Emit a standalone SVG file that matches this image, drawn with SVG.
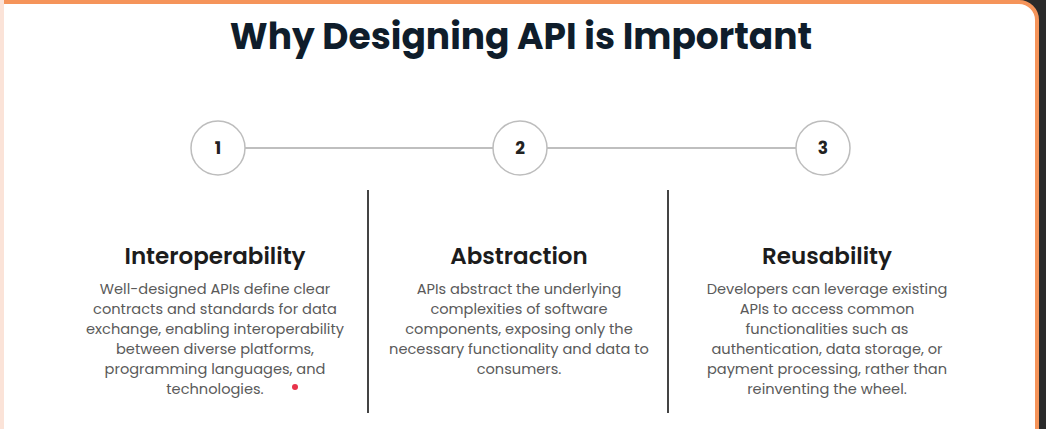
<svg xmlns="http://www.w3.org/2000/svg" width="1046" height="429" viewBox="0 0 1046 429">
<style>
.t{font-family:Poppins,"Noto Sans","Liberation Sans",sans-serif}
.c{fill:#fff;stroke:#bdbdbd;stroke-width:1.5}
.n{font-size:17px;font-weight:700;fill:#222;text-anchor:middle}
.h{font-size:23px;font-weight:600;fill:#1c1c1c;text-anchor:middle}
.b{font-size:14.6px;fill:#5a5a5a;text-anchor:middle}
.l{stroke:#aaa;stroke-width:1.5}
.d{stroke:#444;stroke-width:2}
</style>
<rect width="1046" height="429" fill="#2a2a2a"/>
<rect x="-20" y="2" width="1057" height="450" rx="18" fill="#fff" stroke="#f5945a" stroke-width="4"/>
<rect x="0" y="0" width="4" height="429" fill="#fbe3d8"/>
<text class="t" x="521" y="49" font-size="36" font-weight="700" fill="#0f1d2b" text-anchor="middle">Why Designing API is Important</text>
<g id="connectors">
<line class="l" x1="245" y1="148" x2="493" y2="148"/>
<line class="l" x1="547" y1="148" x2="796" y2="148"/>
<line class="d" x1="368" y1="190" x2="368" y2="413"/>
<line class="d" x1="668" y1="190" x2="668" y2="413"/>
</g>
<g id="n1"><circle class="c" cx="218" cy="148" r="27"/><text class="t n" x="218" y="154">1</text></g>
<g id="n2"><circle class="c" cx="520" cy="148" r="27"/><text class="t n" x="520" y="154">2</text></g>
<g id="n3"><circle class="c" cx="823" cy="148" r="27"/><text class="t n" x="823" y="154">3</text></g>
<g id="c1">
<text class="t h" x="215" y="264">Interoperability</text>
<text class="t b" x="215" y="294">Well-designed APIs define clear</text>
<text class="t b" x="215" y="314">contracts and standards for data</text>
<text class="t b" x="215" y="334">exchange, enabling interoperability</text>
<text class="t b" x="215" y="354">between diverse platforms,</text>
<text class="t b" x="215" y="374">programming languages, and</text>
<text class="t b" x="215" y="394">technologies.</text>
<circle cx="295" cy="387" r="3" fill="#e8334a"/>
</g>
<g id="c2">
<text class="t h" x="519" y="264">Abstraction</text>
<text class="t b" x="519" y="294">APIs abstract the underlying</text>
<text class="t b" x="519" y="314">complexities of software</text>
<text class="t b" x="519" y="334">components, exposing only the</text>
<text class="t b" x="519" y="354">necessary functionality and data to</text>
<text class="t b" x="519" y="374">consumers.</text>
</g>
<g id="c3">
<text class="t h" x="827" y="264">Reusability</text>
<text class="t b" x="827" y="294">Developers can leverage existing</text>
<text class="t b" x="827" y="314">APIs to access common</text>
<text class="t b" x="827" y="334">functionalities such as</text>
<text class="t b" x="827" y="354">authentication, data storage, or</text>
<text class="t b" x="827" y="374">payment processing, rather than</text>
<text class="t b" x="827" y="394">reinventing the wheel.</text>
</g>
</svg>
